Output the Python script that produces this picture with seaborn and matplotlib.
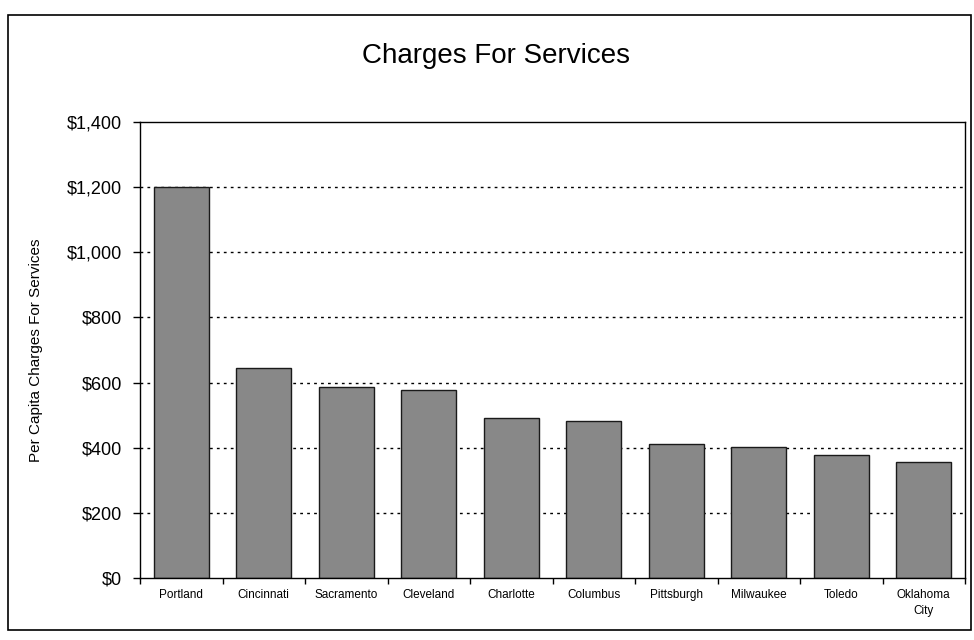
import matplotlib
matplotlib.use("Agg")
import matplotlib.pyplot as plt
import seaborn as sns
import pandas as pd
from matplotlib.patches import Rectangle
from matplotlib.ticker import FuncFormatter, MultipleLocator, FixedLocator

cities = ["Portland", "Cincinnati", "Sacramento", "Cleveland", "Charlotte",
          "Columbus", "Pittsburgh", "Milwaukee", "Toledo", "Oklahoma\nCity"]
charges = [1200, 645, 587, 578, 492, 483, 410, 403, 377, 357]

title = "Charges For Services"
ylabel = "Per Capita Charges For Services"

sns.set_theme(style="white")
plt.rcParams['font.family'] = ['Liberation Sans', 'DejaVu Sans']
plt.rcParams['text.color'] = 'black'
plt.rcParams['axes.labelcolor'] = 'black'
plt.rcParams['xtick.color'] = 'black'
plt.rcParams['ytick.color'] = 'black'

fig = plt.figure(figsize=(9.74, 6.4), dpi=100)
ax = fig.add_axes([140/974, 1-578/640, (965-140)/974, (578-122)/640])

df = pd.DataFrame({"city": cities, "charge": charges})
sns.barplot(data=df, x="city", y="charge", color="#888888", edgecolor="#1a1a1a",
            linewidth=1.0, width=0.67, saturation=1, ax=ax)
for p in ax.patches:
    p.set_facecolor("#888888")

ax.set_ylim(0, 1400)
ax.set_xlim(-0.5, len(cities) - 0.5)
ax.yaxis.set_major_locator(MultipleLocator(200))
ax.yaxis.set_major_formatter(FuncFormatter(lambda v, p: f"${v:,.0f}"))
for y in range(200, 1400, 200):
    ax.axhline(y, color="black", linestyle=(0, (2, 3)), linewidth=1.0, zorder=0)

for s in ax.spines.values():
    s.set_visible(True)
    s.set_color("black")
    s.set_linewidth(1.0)

ax.set_xlabel("")
ax.set_ylabel(ylabel, fontsize=11, color="black")
ax.yaxis.set_label_coords(-0.118, 0.5)
ax.tick_params(axis="y", which="major", direction="out", length=5, width=1,
               color="black", labelcolor="black", labelsize=13, pad=8, left=True)
ax.tick_params(axis="x", which="major", length=0, labelsize=8.5, pad=8,
               labelcolor="black")
ax.xaxis.set_minor_locator(FixedLocator([i + 0.5 for i in range(-1, len(cities))]))
ax.tick_params(axis="x", which="minor", direction="out", length=4, width=1,
               color="black", bottom=True)
for lbl in ax.get_xticklabels():
    lbl.set_linespacing(1.4)

fig.text(496/974, 1-56/640, title, fontsize=20, ha="center", va="center",
         color="black")

fig.patches.append(Rectangle((8/974, 1-630/640), (971-8)/974, (630-15)/640,
                             transform=fig.transFigure, fill=False,
                             edgecolor="black", linewidth=1.2))

fig.savefig("out.png", dpi=100)
